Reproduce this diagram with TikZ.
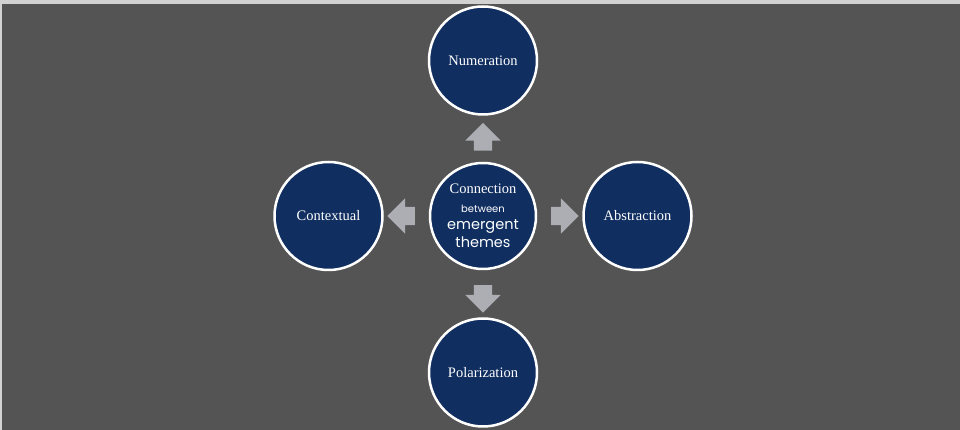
\documentclass[tikz,border=0pt]{standalone}
\usepackage{fontspec}
\setmainfont{Liberation Serif}
\newfontfamily\themefont{Poppins}
\usetikzlibrary{positioning,shapes.arrows,calc}
\definecolor{slide}{RGB}{84,84,84}
\definecolor{navy}{RGB}{16,46,96}
\definecolor{pale}{RGB}{172,174,180}
\begin{document}
\begin{tikzpicture}[x=1pt, y=1pt,
    theme/.style={circle, fill=navy, draw=white, line width=2.5pt, minimum size=108pt,
      inner sep=0pt, text=white, align=center, font=\fontsize{14.5}{16}\selectfont},
    pointer/.style={single arrow, fill=pale, draw=none, inner sep=9pt, minimum height=25pt,
      minimum width=35pt, single arrow head extend=8.5pt}]
      \useasboundingbox (0, 0) rectangle (960, 430);
      \fill [gray!35] (0, 0) rectangle (960, 430);
      \fill [slide] (2, 0) rectangle (960, 426);
      \node [theme, minimum size=106pt] (hub) at (483, 214)
        {Connection\\[3pt]{\themefont\fontsize{10}{11}\selectfont between}\\[1pt]
         {\themefont\fontsize{14.5}{15}\selectfont emergent}\\[2pt]{\themefont\fontsize{14.5}{15}\selectfont themes}};
      \node [theme, above=46pt of hub] (numeration) {Numeration};
      \node [theme, below=47pt of hub] (polarization) {Polarization};
      \node [theme, left=45pt of hub] (contextual) {Contextual};
      \node [theme, right=45pt of hub] (abstraction) {Abstraction};
      \node [pointer, shape border rotate=90] (up) at ($(hub)!0.48!(numeration)$) {};
      \node [pointer, shape border rotate=270] (down) at ($(hub)!0.5!(polarization)$) {};
      \node [pointer, shape border rotate=180] (back) at ($(hub)!0.5!(contextual)$) {};
      \node [pointer] (forth) at ($(hub)!0.5!(abstraction)$) {};
    \end{tikzpicture}
\end{document}
